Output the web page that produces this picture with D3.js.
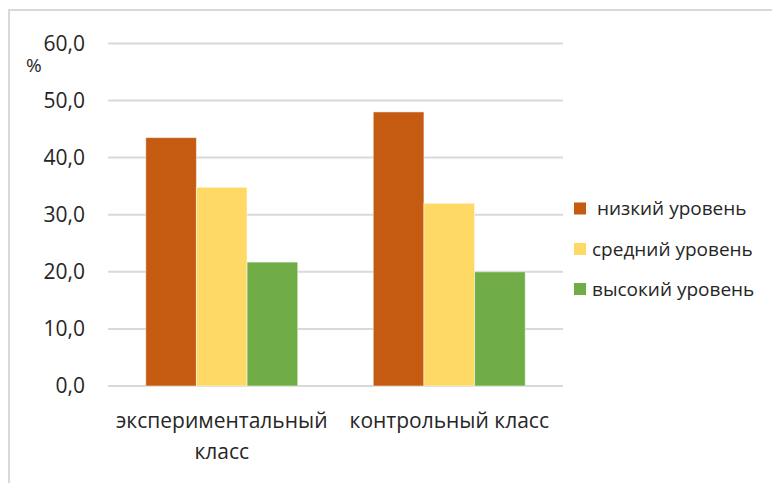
<!DOCTYPE html>
<html><head><meta charset="utf-8">
<script src="https://cdn.jsdelivr.net/npm/d3@7/dist/d3.min.js"></script>
<style>
html,body{margin:0;padding:0;background:#fff;}
svg{display:block;font-family:"Open Sans",sans-serif;}
</style></head>
<body><svg id="c" width="772" height="483"></svg>
<script>
const categories = [["экспериментальный","класс"],["контрольный класс"]];
const categoryKeys = ["экспериментальный класс","контрольный класс"];
const seriesNames = [" низкий уровень","средний уровень","высокий уровень"];
const seriesColors = ["#C55A11","#FFD966","#70AD47"];
const lowValues = [43.5, 48.0];
const midValues = [34.8, 32.0];
const highValues = [21.7, 20.0];
const yTicks = [0,10,20,30,40,50,60];
const yTickLabels = ["0,0","10,0","20,0","30,0","40,0","50,0","60,0"];
const yUnit = "%";

const seriesValues = [lowValues, midValues, highValues];
const svg = d3.select("#c");

// outer border
svg.append("rect").attr("x",9).attr("y",10).attr("width",800).attr("height",500)
  .attr("fill","none").attr("stroke","#d9d9d9").attr("stroke-width",2);

const x0 = d3.scaleBand().domain(categoryKeys).range([108,563]).paddingInner(0.332).paddingOuter(0.166);
const x1 = d3.scaleBand().domain(d3.range(seriesNames.length)).range([0,x0.bandwidth()]);
const y = d3.scaleLinear().domain([0,60]).range([386,43.4]);

// grid
svg.append("g").selectAll("line").data(yTicks).join("line")
  .attr("x1",108).attr("x2",563).attr("y1",d=>y(d)).attr("y2",d=>y(d))
  .attr("stroke","#d9d9d9").attr("stroke-width",2);

// y tick labels
svg.append("g").selectAll("text").data(yTicks).join("text")
  .attr("x",85).attr("y",d=>y(d)).attr("dy","0.35em").attr("text-anchor","end")
  .attr("font-size",21).attr("fill","#262626").text((d,i)=>yTickLabels[i]);
svg.append("text").attr("x",26).attr("y",72).attr("font-size",19).attr("fill","#262626").text(yUnit);

// bars
const groups = svg.append("g").selectAll("g").data(categoryKeys).join("g")
  .attr("transform",d=>`translate(${x0(d)},0)`);
groups.selectAll("rect").data((d,ci)=>seriesValues.map((s,si)=>({si,v:s[ci]}))).join("rect")
  .attr("x",d=>x1(d.si)).attr("width",x1.bandwidth())
  .attr("y",d=>y(d.v)).attr("height",d=>y(0)-y(d.v))
  .attr("fill",d=>seriesColors[d.si]).attr("stroke","rgba(255,255,255,0.5)").attr("stroke-width",1);

// x labels
categories.forEach((lines,ci)=>{
  const cx = x0(categoryKeys[ci]) + x0.bandwidth()/2;
  const t = svg.append("text").attr("text-anchor","middle").attr("font-size",21).attr("fill","#262626");
  lines.forEach((ln,li)=>{
    t.append("tspan").attr("x",cx).attr("y",428+li*31).text(ln);
  });
});

// legend
const legY = [208.5,249,289];
const lg = svg.append("g").selectAll("g").data(seriesNames).join("g")
  .attr("transform",(d,i)=>`translate(574,${legY[i]})`);
lg.append("rect").attr("x",0).attr("y",-6).attr("width",12).attr("height",12).attr("fill",(d,i)=>seriesColors[i]);
lg.append("text").attr("x",18).attr("y",0).attr("dy","0.35em").attr("font-size",19).attr("fill","#262626")
  .attr("xml:space","preserve").style("white-space","pre").text(d=>d);
</script></body></html>
